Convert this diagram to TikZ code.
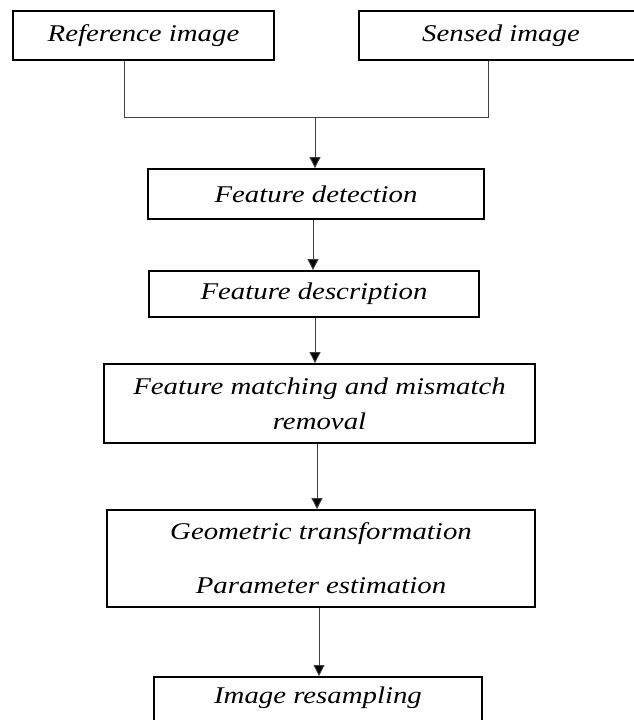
\documentclass[tikz,border=0pt]{standalone}
\usepackage{fontspec}
\setmainfont{Liberation Serif}[FakeStretch=1.2]
\usetikzlibrary{arrows.meta}
\begin{document}
\begin{tikzpicture}[x=1pt,y=-1pt,
  box/.style={draw=black, line width=1.8pt, fill=white, inner sep=0pt, font=\fontsize{24}{28}\selectfont\itshape, align=center},
  txt/.style={inner sep=0pt, font=\fontsize{24}{28}\selectfont\itshape, align=center},
  conn/.style={draw=black!75, line width=0.9pt},
  arr/.style={conn, -{Triangle[length=11pt,width=11pt,fill=black]}}]
\useasboundingbox (0,0) rectangle (634,720);
\fill[white] (0,0) rectangle (634,720);

\node[box, minimum width=261pt, minimum height=49pt] (ref) at (143.5,35.5) {Reference image};
\node[box, minimum width=284pt, minimum height=49pt] (sen) at (501,35.5) {Sensed image};
\node[box, minimum width=336pt, minimum height=50pt] (det) at (316,194) {Feature detection};
\node[box, minimum width=330pt, minimum height=46pt] (desc) at (314,294) {Feature description};
\node[box, minimum width=431pt, minimum height=79pt, font=\fontsize{24}{35}\selectfont\itshape] (match) at (319.5,403.5) {Feature matching and mismatch\\removal};
\node[box, minimum width=428pt, minimum height=97pt, font=\fontsize{24}{54}\selectfont\itshape] (geo) at (321,558.5) {Geometric transformation\\Parameter estimation};
\node[box, minimum width=328pt, minimum height=64pt, anchor=north] (res) at (318,676) {};
\node[txt] (restxt) at (318,698) {Image resampling};

\coordinate (jl) at (124,117);
\coordinate (jr) at (488,117);
\coordinate (jm) at (315,117);
\draw[conn] (ref.south -| jl) -- (jl) -- (jr) -- (sen.south -| jr);
\draw[arr] (jm) -- (jm |- det.north);
\draw[arr] ([xshift=-3pt]det.south) -- ([xshift=-3pt]det.south |- desc.north);
\draw[arr] ([xshift=1pt]desc.south) -- ([xshift=1pt]desc.south |- match.north);
\draw[arr] ([xshift=-2.5pt]match.south) -- ([xshift=-2.5pt]match.south |- geo.north);
\draw[arr] ([xshift=-2pt]geo.south) -- ([xshift=-2pt]geo.south |- res.north);
\end{tikzpicture}
\end{document}
